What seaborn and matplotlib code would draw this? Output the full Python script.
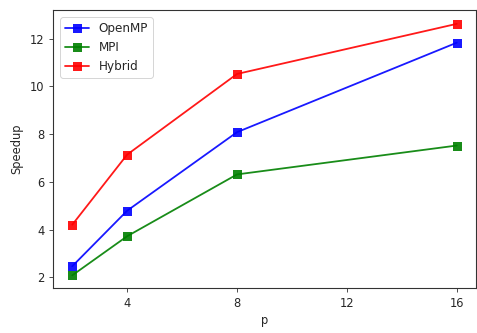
import seaborn as sns
import matplotlib
matplotlib.use("Agg")
import matplotlib.pyplot as plt
import pandas as pd

sns.set_style("ticks")
plt.rcParams['font.family'] = ['DejaVu Sans']

p = [2, 4, 8, 16]
openmp = [2.46, 4.79, 8.08, 11.83]
mpi = [2.08, 3.72, 6.31, 7.52]
hybrid = [4.2, 7.14, 10.52, 12.62]

rows = []
for name, vals in [("OpenMP", openmp), ("MPI", mpi), ("Hybrid", hybrid)]:
    for x, v in zip(p, vals):
        rows.append({"p": x, "Speedup": v, "method": name})
df = pd.DataFrame(rows)

fig = plt.figure(figsize=(477 / 72, 333 / 72), dpi=72)
ax = fig.add_axes([53 / 477, 1 - 288 / 333, (476 - 53) / 477, (288 - 10) / 333])
sns.lineplot(data=df, x="p", y="Speedup", hue="method", marker="s",
             palette={"OpenMP": "blue", "MPI": "green", "Hybrid": "red"},
             markersize=9, markeredgewidth=0, linewidth=1.8, alpha=0.9, ax=ax)
ax.set_xticks([4, 8, 12, 16])
ax.set_yticks([2, 4, 6, 8, 10, 12])
ax.set_xlim(1.3, 16.7)
ax.set_ylim(1.55, 13.2)
ax.tick_params(labelsize=11.5, colors="#262626", length=4.2, pad=4.5)
ax.set_xlabel("p", fontsize=11.5, labelpad=4)
ax.set_ylabel("Speedup", fontsize=11.5, labelpad=6)
for s in ax.spines.values():
    s.set_color("#333333")
    s.set_linewidth(1.1)
ax.legend(title=None, loc="upper left", fontsize=12, borderaxespad=0.6)

fig.savefig("out.png", dpi=72)
